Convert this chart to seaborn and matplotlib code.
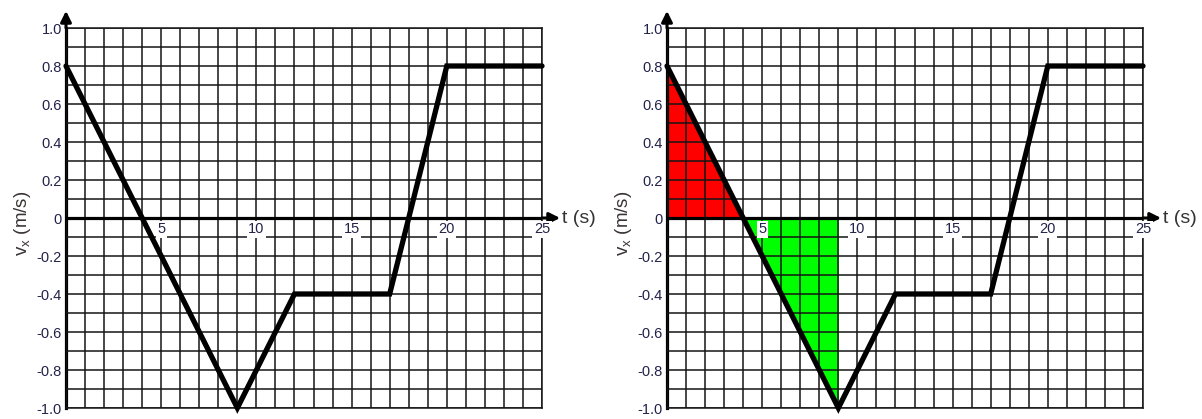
import matplotlib
matplotlib.use("Agg")
import matplotlib.pyplot as plt
import numpy as np
import pandas as pd
import seaborn as sns

# velocity-time graph corners
t_pts = [0, 9, 12, 17, 20, 25]
v_pts = [0.8, -1.0, -0.4, -0.4, 0.8, 0.8]

# shaded areas (right panel)
red_t = [0, 4]
red_v = [0.8, 0.0]
green_t = [4, 9]
green_v = [0.0, -1.0]

x_labels = [5, 10, 15, 20, 25]
y_ticks = [1.0, 0.8, 0.6, 0.4, 0.2, 0.0, -0.2, -0.4, -0.6, -0.8, -1.0]
y_ticklabels = ["1.0", "0.8", "0.6", "0.4", "0.2", "0", "-0.2", "-0.4", "-0.6", "-0.8", "-1.0"]

sns.set_style("white")
plt.rcParams["font.family"] = ["Liberation Sans", "DejaVu Sans"]

df = pd.DataFrame({"t": t_pts, "v": v_pts})

label_col = "#22224a"
grid_col = "#151515"
fig = plt.figure(figsize=(12.02, 4.19), dpi=100)
ax1 = fig.add_axes([66 / 1202, 11 / 419, 476 / 1202, 380 / 419])
ax2 = fig.add_axes([667 / 1202, 11 / 419, 476 / 1202, 380 / 419])


def draw_panel(ax, shade):
    if shade:
        ax.fill_between(red_t, red_v, 0, color="#ff0000", lw=0, zorder=1)
        ax.fill_between(green_t, green_v, 0, color="#00ff00", lw=0, zorder=1)

    # grid every 1 s and 0.1 m/s
    ax.set_xticks(np.arange(0, 26, 1))
    ax.set_yticks(np.round(np.arange(-1.0, 1.01, 0.1), 1))
    ax.grid(True, color=grid_col, lw=1.1, zorder=2)
    ax.set_axisbelow(False)
    ax.set_xlim(0, 25)
    ax.set_ylim(-1.0, 1.0)
    ax.tick_params(length=0, labelbottom=False)
    ax.set_yticklabels([y_ticklabels[y_ticks.index(round(v, 1))] if round(v, 1) in y_ticks else ""
                        for v in ax.get_yticks()], fontsize=10.5, color=label_col)
    ax.tick_params(axis="y", pad=3)

    for s in ["top", "right", "bottom"]:
        ax.spines[s].set_color(grid_col)
        ax.spines[s].set_linewidth(1.1)
    ax.spines["left"].set_color("black")
    ax.spines["left"].set_linewidth(2.3)
    ax.axhline(0, color="black", lw=2.3, zorder=3)

    sns.lineplot(data=df, x="t", y="v", ax=ax, color="black", lw=3.8, zorder=5,
                 clip_on=False, solid_joinstyle="miter")
    ax.set_xlabel("")
    ax.set_ylabel("")

    # arrows for the axes
    ax.annotate("", xy=(25.95, 0), xytext=(25, 0), annotation_clip=False,
                arrowprops=dict(arrowstyle="-|>", color="black", lw=2.2, mutation_scale=16,
                                shrinkA=0, shrinkB=0))
    ax.annotate("", xy=(0, 1.09), xytext=(0, 1.0), annotation_clip=False,
                arrowprops=dict(arrowstyle="-|>", color="black", lw=2.2, mutation_scale=16,
                                shrinkA=0, shrinkB=0))

    for xv in x_labels:
        ax.text(xv, -0.06, str(xv), ha="center", va="center", fontsize=10.5, color=label_col,
                zorder=4, bbox=dict(facecolor="white", edgecolor="none", pad=1))

    ax.text(26.05, 0, "t (s)", ha="left", va="center", fontsize=14, color="#333333",
            clip_on=False)
    ax.text(-2.3, -0.03, r"v$_\mathregular{x}$ (m/s)", rotation=90, ha="center", va="center",
            fontsize=13.5, color="#3a3333", clip_on=False)


draw_panel(ax1, False)
draw_panel(ax2, True)

fig.savefig("out.png", dpi=100, facecolor="white")
